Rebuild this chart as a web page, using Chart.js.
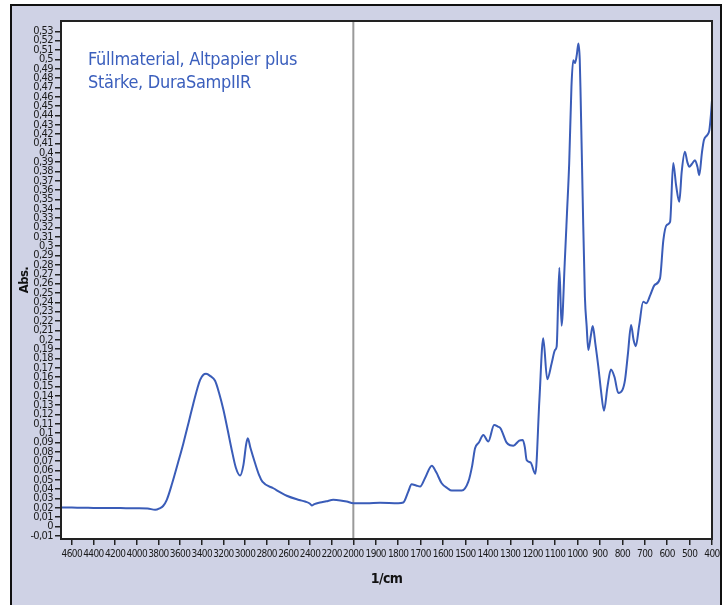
<!DOCTYPE html>
<html>
<head>
<meta charset="utf-8">
<script src="https://cdn.jsdelivr.net/npm/chart.js@4/dist/chart.umd.min.js"></script>
<style>
  html, body { margin: 0; padding: 0; background: #fff; }
  #wrap { width: 728px; height: 605px; }
</style>
</head>
<body>
<div id="wrap"><canvas id="c" width="728" height="605"></canvas></div>
<script>
// spectrum: wavenumber (1/cm) and absorbance
const wavenumbers = [
  4700, 4600, 4500, 4400, 4300, 4200, 4100, 4000, 3900, 3830, 3790, 3757, 3723, 3674, 3620, 3570,
  3520, 3477, 3440, 3415, 3385, 3360, 3320, 3277, 3240, 3200, 3160, 3123, 3085, 3046, 3015, 2990,
  2975, 2950, 2908, 2870, 2840, 2739, 2615, 2500, 2446, 2400, 2384, 2360, 2307, 2250, 2185, 2120,
  2061, 2000, 1940, 1881, 1800, 1777, 1755, 1740, 1720, 1702, 1680, 1650, 1630, 1606, 1580, 1561,
  1516, 1487, 1470, 1457, 1440, 1420, 1398, 1372, 1355, 1343, 1316, 1300, 1286, 1260, 1244, 1235,
  1227, 1209, 1188, 1170, 1153, 1135, 1115, 1100, 1093, 1081, 1071, 1057, 1047, 1037, 1027, 1019,
  1011, 1003, 996, 990, 986, 977, 967, 959, 952, 940, 932, 920, 907, 895, 882, 866,
  851, 835, 818, 800, 788, 775, 761, 750, 740, 725, 707, 693, 675, 656, 632, 617,
  602, 587, 573, 560, 546, 535, 521, 510, 501, 490, 476, 465, 457, 445, 436, 421,
  412, 405, 400
];
const absorbance = [
  0.0205, 0.0203, 0.0202, 0.0200, 0.0199, 0.0198, 0.0197, 0.0196, 0.0193, 0.0180, 0.0195, 0.0220, 0.0286, 0.046, 0.068, 0.089,
  0.112, 0.132, 0.148, 0.157, 0.1625, 0.1635, 0.161, 0.156, 0.143, 0.125, 0.103, 0.082, 0.063, 0.0546, 0.066, 0.088,
  0.0945, 0.084, 0.068, 0.055, 0.048, 0.041, 0.033, 0.0285, 0.0268, 0.0245, 0.0225, 0.024, 0.0257, 0.027, 0.0286, 0.028,
  0.0268, 0.025, 0.025, 0.0255, 0.025, 0.0257, 0.0374, 0.0453, 0.044, 0.0428, 0.052, 0.0652, 0.058, 0.0464, 0.041, 0.0385,
  0.0385, 0.048, 0.065, 0.0838, 0.090, 0.098, 0.091, 0.1088, 0.107, 0.105, 0.0898, 0.087, 0.0866, 0.092, 0.0927, 0.085,
  0.0713, 0.0685, 0.0564, 0.1355, 0.2015, 0.1576, 0.175, 0.189, 0.1925, 0.277, 0.215, 0.282, 0.335, 0.389, 0.4706, 0.499,
  0.496, 0.505, 0.517, 0.500, 0.46, 0.353, 0.246, 0.214, 0.189, 0.205, 0.2146, 0.195, 0.171, 0.145, 0.124, 0.150,
  0.168, 0.160, 0.143, 0.146, 0.157, 0.185, 0.2157, 0.200, 0.193, 0.215, 0.2406, 0.239, 0.248, 0.2585, 0.2656, 0.3066,
  0.3227, 0.326, 0.389, 0.365, 0.3476, 0.380, 0.401, 0.390, 0.385, 0.388, 0.392, 0.385, 0.376, 0.400, 0.4136, 0.419,
  0.424, 0.440, 0.456
];

const xTickLabels = [
  4600, 4400, 4200, 4000, 3800, 3600, 3400, 3200, 3000, 2800, 2600, 2400, 2200, 2000,
  1900, 1800, 1700, 1600, 1500, 1400, 1300, 1200, 1100, 1000, 900, 800, 700, 600, 500, 400
];
const yTickValues = [];
for (let i = -1; i <= 53; i++) yTickValues.push(i / 100);

const noteLines = ["Füllmaterial, Altpapier plus", "Stärke, DuraSampIIR"];

// axis is compressed above 2000 1/cm (scale break)
const BREAK = 2000;
const SQUEEZE = 0.483;
function pos(w) {
  return w <= BREAK ? w : BREAK + (w - BREAK) * SQUEEZE;
}

const FONT = "'Liberation Sans Narrow', 'DejaVu Sans Condensed', 'Roboto', sans-serif";
const LINE = "#3a5cb8";

const frame = {
  id: "frame",
  beforeDraw(chart) {
    const { ctx, chartArea: a } = chart;
    ctx.save();
    ctx.fillStyle = "#fff";
    ctx.fillRect(0, 0, chart.width, chart.height);
    ctx.fillStyle = "#cfd2e5";
    ctx.fillRect(11, 5, 710, 610);
    ctx.strokeStyle = "#111";
    ctx.lineWidth = 2;
    ctx.strokeRect(11, 5, 710, 610);
    ctx.fillStyle = "#fff";
    ctx.fillRect(a.left, a.top, a.right - a.left, a.bottom - a.top);
    ctx.restore();
    // tick labels in the original are set in a condensed face
    ctx.letterSpacing = "-0.6px";
  },
  beforeDatasetsDraw(chart) {
    const { ctx, chartArea: a, scales } = chart;
    const x = scales.x.getPixelForValue(pos(BREAK));
    ctx.save();
    ctx.strokeStyle = "#9a9a9a";
    ctx.lineWidth = 2;
    ctx.beginPath();
    ctx.moveTo(x, a.top);
    ctx.lineTo(x, a.bottom);
    ctx.stroke();
    ctx.restore();
  },
  afterDraw(chart) {
    const { ctx, chartArea: a } = chart;
    ctx.save();
    ctx.strokeStyle = "#222";
    ctx.lineWidth = 2;
    ctx.strokeRect(a.left, a.top, a.right - a.left, a.bottom - a.top);
    ctx.fillStyle = "#3b5fbd";
    ctx.font = "18px " + FONT;
    ctx.letterSpacing = "-0.3px";
    ctx.textBaseline = "alphabetic";
    noteLines.forEach((t, i) => ctx.fillText(t, a.left + 27, a.top + 44 + i * 23));
    ctx.restore();
    ctx.letterSpacing = "0px";
  }
};

new Chart(document.getElementById("c"), {
  type: "line",
  data: {
    datasets: [{
      data: wavenumbers.map((w, i) => ({ x: pos(w), y: absorbance[i] })),
      borderColor: LINE,
      borderWidth: 2,
      pointRadius: 0,
      cubicInterpolationMode: "monotone",
      fill: false
    }]
  },
  options: {
    responsive: false,
    animation: false,
    events: [],
    layout: { padding: { left: 0, top: 21, right: 16, bottom: 0 } },
    plugins: { legend: { display: false }, tooltip: { enabled: false } },
    scales: {
      x: {
        type: "linear",
        reverse: true,
        min: pos(400),
        max: pos(4700),
        afterBuildTicks: (s) => { s.ticks = xTickLabels.map((w) => ({ value: pos(w) })); },
        afterFit: (s) => { s.height = 66; },
        ticks: {
          autoSkip: false,
          maxRotation: 0,
          padding: 3,
          color: "#1a1a1a",
          font: { family: FONT, size: 10 },
          callback: (v, i) => String(xTickLabels[i])
        },
        grid: { drawOnChartArea: false, drawTicks: true, tickLength: 6, color: "#222", lineWidth: 1.5 },
        border: { display: true, color: "#222", width: 2 },
        title: {
          display: true,
          text: "1/cm",
          color: "#111",
          font: { family: FONT, size: 14, weight: "bold" },
          padding: { top: 0, bottom: 17 }
        }
      },
      y: {
        type: "linear",
        min: -0.0133,
        max: 0.541,
        afterBuildTicks: (s) => { s.ticks = yTickValues.map((v) => ({ value: v })); },
        afterFit: (s) => { s.width = 61; },
        ticks: {
          autoSkip: false,
          padding: 2,
          color: "#1a1a1a",
          font: { family: FONT, size: 11, lineHeight: 1 },
          callback: (v) => String(Math.round(v * 100) / 100).replace(".", ",")
        },
        grid: { drawOnChartArea: false, drawTicks: true, tickLength: 6, color: "#222", lineWidth: 1.5 },
        border: { display: true, color: "#222", width: 2 },
        title: {
          display: true,
          text: "Abs.",
          color: "#111",
          font: { family: FONT, size: 13, weight: "bold" },
          padding: { top: 17, bottom: 0 }
        }
      }
    }
  },
  plugins: [frame]
});
</script>
</body>
</html>
